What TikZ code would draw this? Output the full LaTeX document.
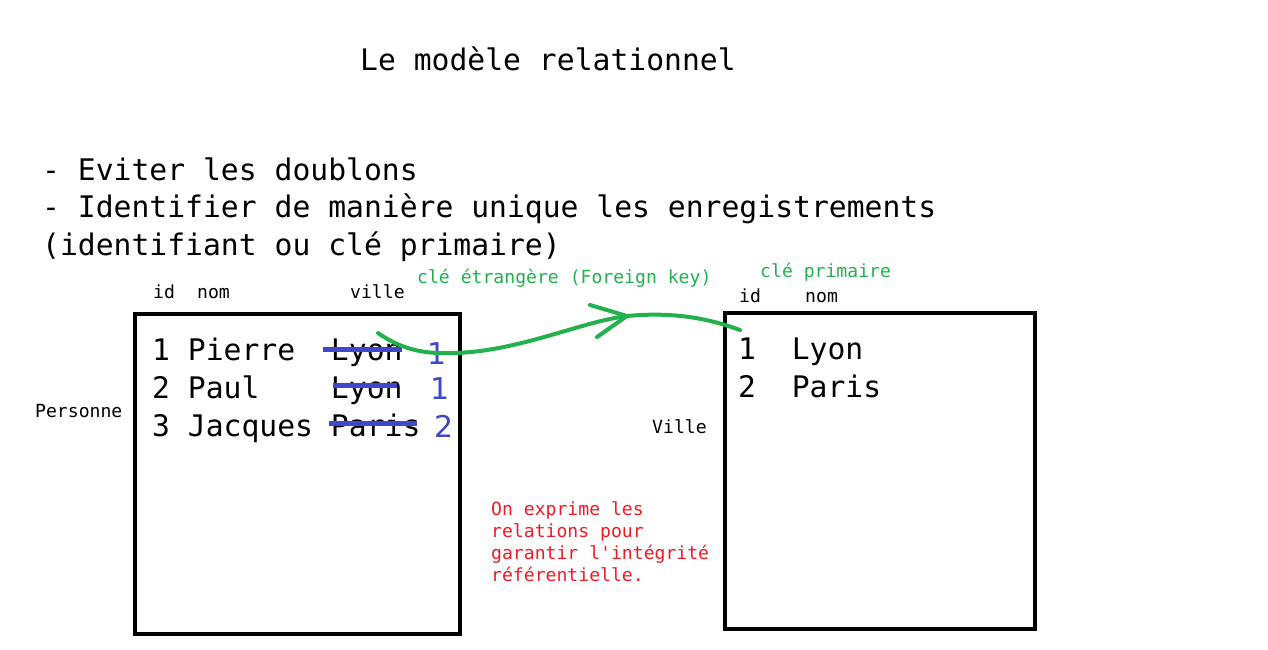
\documentclass[tikz,border=0pt]{standalone}
\usepackage{fontspec}
\setmonofont{DejaVu Sans Mono}
\newfontfamily\numfont{DejaVu Sans}
\definecolor{fkgreen}{HTML}{22B14C}
\definecolor{strikeblue}{HTML}{3F48CC}
\definecolor{notered}{HTML}{ED1C24}
\begin{document}
\begin{tikzpicture}[x=1pt,y=-1pt,
  big/.style={inner sep=0pt,anchor=base west,font=\ttfamily\fontsize{29.7}{36}\selectfont},
  small/.style={inner sep=0pt,anchor=base west,font=\ttfamily\fontsize{18.1}{22}\selectfont},
  greentxt/.style={small,text=fkgreen},
  redtxt/.style={small,text=notered},
  bluenum/.style={inner sep=0pt,anchor=base west,text=strikeblue,font=\numfont\fontsize{30}{36}\selectfont},
  tablebox/.style={draw=black,line width=4pt},
  strike/.style={draw=strikeblue,line width=5pt},
  fkarrow/.style={draw=fkgreen,line width=4pt,line cap=round,line join=round}]
\useasboundingbox (0,0) rectangle (1268,650);
\fill[white] (0,0) rectangle (1268,650);

% title and bullets
\node[big] (title) at (360,71) {Le modèle relationnel};
\node[big] (b1) at (42,180) {- Eviter les doublons};
\node[big] (b2) at (42,217) {- Identifier de manière unique les enregistrements};
\node[big] (b3) at (42,255) {(identifiant ou clé primaire)};

% table Personne
\draw[tablebox] (135,314) rectangle (460,634);
\node[small] (hid1) at (153,298) {id};
\node[small] (hnom1) at (197,298) {nom};
\node[small] (hville1) at (350,298) {ville};
\node[small] (personne) at (35,417) {Personne};
\node[big] (r1) at (152,360) {1 Pierre~~Lyon};
\node[big] (r2) at (152,398) {2 Paul~~~~Lyon};
\node[big] (r3) at (152,436) {3 Jacques Paris};
\draw[strike] (323,349) -- (402,349);
\draw[strike] (333,385) -- (397,385);
\draw[strike] (329,423) -- (417,423);
\node[bluenum] (n1) at (427,364) {1};
\node[bluenum] (n2) at (430,399) {1};
\node[bluenum] (n3) at (434,437) {2};

% table Ville
\draw[tablebox] (725,313) rectangle (1035,629);
\node[small] (hid2) at (739,302) {id};
\node[small] (hnom2) at (805,302) {nom};
\node[small] (ville) at (652,433) {Ville};
\node[big] (v1) at (738,359) {1~~Lyon};
\node[big] (v2) at (738,397) {2~~Paris};

% labels
\node[greentxt] (fk) at (417,283) {clé étrangère (Foreign key)};
\node[greentxt] (pk) at (760,277) {clé primaire};

% foreign key arrow
\coordinate (fkstart) at (378,333);
\coordinate (fktip) at (627,316);
\coordinate (fkend) at (740,330);
\coordinate (barbA) at (590,305);
\coordinate (barbB) at (597,337);
\draw[fkarrow] (fkstart) .. controls (405,352) and (430,354) .. (455,353)
  .. controls (520,351) and (580,322) .. (fktip)
  .. controls (680,311) and (715,321) .. (fkend);
\draw[fkarrow] (barbA) -- (fktip) -- (barbB);

% note
\node[redtxt] (note1) at (491,515) {On exprime les};
\node[redtxt] (note2) at (491,537) {relations pour};
\node[redtxt] (note3) at (491,559) {garantir l'intégrité};
\node[redtxt] (note4) at (491,581) {référentielle.};
\end{tikzpicture}
\end{document}
